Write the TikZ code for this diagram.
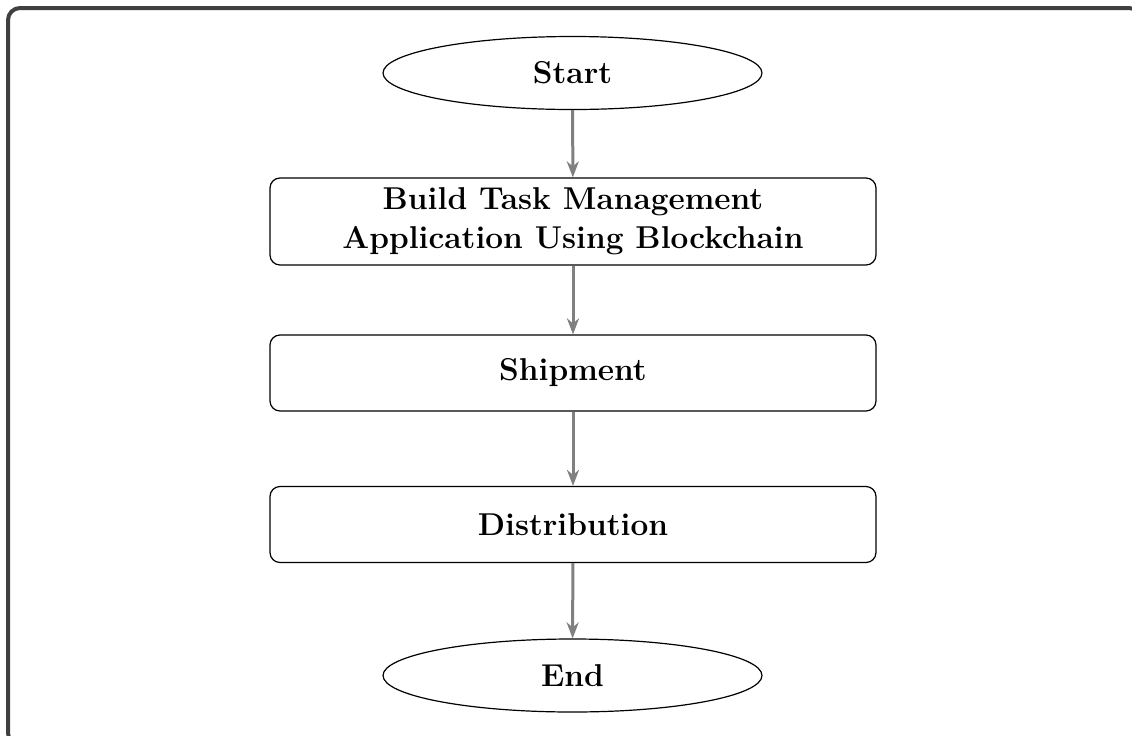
\documentclass[tikz,border=0pt]{standalone}
\usetikzlibrary{shapes.geometric,arrows.meta}
\definecolor{framegray}{HTML}{404040}
\definecolor{linkgray}{HTML}{808080}
\tikzset{
  x=0.5pt, y=-0.5pt,
  every node/.style={font=\fontsize{15.8}{19.5}\selectfont\bfseries, align=center, inner sep=0pt},
  terminal/.style={ellipse, draw=black, line width=0.6pt, minimum width=189.5pt, minimum height=36.5pt},
  stepbox/.style={draw=black, line width=0.6pt, rounded corners=5pt, minimum width=303pt, minimum height=38pt},
  link/.style={draw=linkgray, line width=1.5pt, -{Stealth[length=8pt,width=6pt,inset=2.5pt]}},
}
\begin{document}
\begin{tikzpicture}
\useasboundingbox (0,0) rectangle (1132,735);
\clip (0,0) rectangle (1132,735);
% outer frame
\draw[framegray, line width=2pt, rounded corners=6pt] (8,8) rectangle (1141,745);

\node[terminal] (start) at (572.5,73) {Start};
\node[stepbox, minimum height=43.5pt] (build) at (573,221.5) {Build Task Management\\Application Using Blockchain};
\node[stepbox] (ship) at (573,373) {Shipment};
\node[stepbox] (dist) at (573,524.5) {Distribution};
\node[terminal] (end) at (572.5,675.5) {End};

\draw[link] (start) -- (build);
\draw[link] (build) -- (ship);
\draw[link] (ship) -- (dist);
\draw[link] (dist) -- (end);
\end{tikzpicture}
\end{document}
